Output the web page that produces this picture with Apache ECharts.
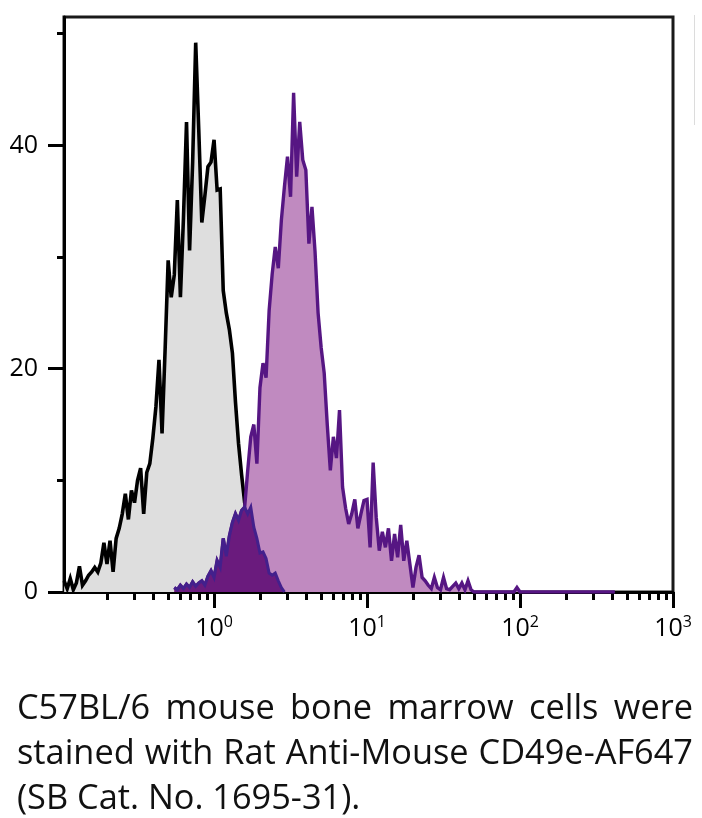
<!DOCTYPE html>
<html>
<head>
<meta charset="utf-8">
<script src="https://cdn.jsdelivr.net/npm/echarts@6/dist/echarts.min.js"></script>
<style>
  html, body { margin: 0; padding: 0; background: #fff; }
  #wrap { position: relative; width: 702px; height: 818px; }
  #chart { position: absolute; left: 0; top: 0; width: 702px; height: 818px; }
  #caption { position: absolute; left: 17px; top: 683px; width: 676px;
    font-family: "Open Sans", sans-serif; font-size: 33px; color: #111; }
  #caption div { height: 45px; line-height: 45px; white-space: nowrap; }
  #caption .j { text-align: justify; text-align-last: justify; }
  #measure { position: absolute; visibility: hidden; white-space: nowrap;
    font-family: "Open Sans", sans-serif; font-size: 100px; }
</style>
</head>
<body>
<div id="wrap">
  <div id="chart"></div>
  <div id="caption">
    <div class="j">C57BL/6 mouse bone marrow cells were</div>
    <div class="j" id="line2">stained with Rat Anti-Mouse CD49e-AF647</div>
    <div>(SB Cat. No. 1695-31).</div>
  </div>
  <span id="measure">stained with Rat Anti-Mouse CD49e-AF647</span>
</div>
<script>
// ---- data (histogram channels on a log10 fluorescence scale) ----
const binStart = -0.98;     // log10 of first channel
const binStep = 0.02;       // channel width in decades

// unstained / control (gray) histogram, channels 0..72
const grayCounts = [1.0,0.3,1.2,0.2,0.8,2.3,0.6,1.0,1.5,1.8,
  2.2,1.8,2.6,4.4,2.5,4.6,1.8,4.8,5.7,7.0,
  8.8,6.5,9.1,8.0,10.0,11.1,7.0,10.7,11.5,13.8,
  16.6,20.8,14.2,21.7,29.7,26.4,28.4,35.1,26.4,33.5,
  42.1,30.6,38.5,49.2,41.4,33.1,35.5,38.1,38.5,40.5,
  36.0,36.1,27.0,25.0,23.5,21.4,17.0,13.3,10.5,8.0,
  7.0,7.6,5.8,4.8,3.5,3.6,3.0,1.7,1.5,1.7,
  1.0,0.4,0];
const grayStart = 0;

// CD49e-AF647 stained (purple) histogram, channels 36..180
const purpleStart = 36;
const purpleCounts = [0.4,0.2,0.6,0.3,0.7,0.4,0.9,0.5,0.8,1.0,
  0.6,1.4,1.9,1.3,2.8,2.2,4.8,3.2,5.0,6.2,
  7.0,6.4,7.3,7.6,10.9,13.9,15.0,11.5,18.3,20.5,
  19.2,25.2,28.5,30.9,29.0,33.3,36.3,39.0,35.4,44.7,
  37.2,42.1,38.7,37.8,31.2,34.5,30.5,25.0,21.9,19.6,
  15.0,10.9,13.9,12.0,16.3,9.4,7.5,6.1,7.0,8.3,
  5.7,7.0,8.2,8.3,4.0,11.6,6.7,3.7,5.4,4.0,
  5.7,2.8,5.2,3.1,6.0,2.8,4.6,2.5,0.4,2.2,
  3.3,1.3,1.0,0.6,0.3,1.3,0.4,0.2,1.3,0.3,
  0.2,0.5,0.8,0.3,0.8,0.2,1.0,0.2,0,0,
  0,0,0,0,0,0,0,0,0,0,0,0,
  0.4,
  0,0,0,0,0,0,0,0,0,0,0,0,0,0,0,0,0,0,0,0,0,0,0,0,0,0,0,0,0,0,0,0];

// overlapping region of the two histograms (dark purple), channels 36..72
const overlapStart = 36;
const overlapCounts = [0.4,0.2,0.6,0.3,0.7,0.4,0.9,0.5,0.8,1.0,
  0.6,1.4,1.9,1.3,2.8,2.2,4.8,3.2,5.0,6.2,
  7.0,6.4,7.3,7.6,7.0,7.6,5.8,4.8,3.5,3.6,
  3.0,1.7,1.5,1.7,1.0,0.4,0];

// axes
const xMinValue = 0.1045, xMaxValue = 1000;
const xMajorTicks = [1, 10, 100, 1000];
const xMinorTicks = [0.2,0.3,0.4,0.5,0.6,0.7,0.8,0.9,
  2,3,4,5,6,7,8,9, 20,30,40,50,60,70,80,90, 200,300,400,500,600,700,800,900];
const yMax = 51.5;
const yLabelTicks = [0, 20, 40];
const yMinorTicks = [10, 30, 50];

// ---- caption sizing: second line fills the full width, as in the figure ----
(function fitCaption() {
  const w = document.getElementById('measure').getBoundingClientRect().width;
  if (w > 0) {
    const size = Math.min(36, 100 * 672 / w);
    document.getElementById('caption').style.fontSize = size.toFixed(2) + 'px';
  }
})();

// ---- build ----
function toSeries(start, counts) {
  return counts.map((c, i) => [binStart + (start + i) * binStep, c]);
}
const lg = v => Math.log10(v);
const FONT = '"Open Sans", sans-serif';

const chart = echarts.init(document.getElementById('chart'), null, { renderer: 'canvas' });
chart.setOption({
  animation: false,
  backgroundColor: '#fff',
  grid: { left: 64, right: 29, top: 17, bottom: 226, show: true,
    borderColor: '#1a1a1a', borderWidth: 3, backgroundColor: '#fff' },
  xAxis: [{
    type: 'value', position: 'bottom', min: lg(xMinValue), max: lg(xMaxValue),
    axisLine: { show: true, onZero: false, lineStyle: { color: '#000', width: 3 } },
    axisTick: { show: true, customValues: xMajorTicks.map(lg), length: 16,
      lineStyle: { color: '#000', width: 3 } },
    axisLabel: { customValues: xMajorTicks.map(lg), margin: 22,
      formatter: v => '{b|10}{s|' + Math.round(v) + '}',
      rich: {
        b: { fontSize: 25, fontFamily: FONT, color: '#000', lineHeight: 30 },
        s: { fontSize: 16, fontFamily: FONT, color: '#000', verticalAlign: 'top', lineHeight: 18 }
      } },
    splitLine: { show: false }
  }, {
    type: 'value', position: 'bottom', min: lg(xMinValue), max: lg(xMaxValue),
    axisLine: { show: false, onZero: false },
    axisTick: { show: true, customValues: xMinorTicks.map(lg), length: 8,
      lineStyle: { color: '#000', width: 3 } },
    axisLabel: { show: false },
    splitLine: { show: false }
  }],
  yAxis: [{
    type: 'value', position: 'left', min: 0, max: yMax,
    axisLine: { show: true, onZero: false, lineStyle: { color: '#000', width: 3 } },
    axisTick: { show: true, customValues: yLabelTicks, length: 16,
      lineStyle: { color: '#000', width: 3 } },
    axisLabel: { customValues: yLabelTicks, margin: 26, fontSize: 25,
      fontFamily: FONT, color: '#000' },
    splitLine: { show: false }
  }, {
    type: 'value', position: 'left', min: 0, max: yMax,
    axisLine: { show: false, onZero: false },
    axisTick: { show: true, customValues: yMinorTicks, length: 7,
      lineStyle: { color: '#000', width: 3 } },
    axisLabel: { show: false },
    splitLine: { show: false }
  }],
  series: [{
    name: 'Control', type: 'line', xAxisIndex: 0, yAxisIndex: 0,
    data: toSeries(grayStart, grayCounts), showSymbol: false, z: 2,
    lineStyle: { color: '#000', width: 3.6, join: 'miter', miterLimit: 4 },
    areaStyle: { color: '#dedede', opacity: 1 }
  }, {
    name: 'CD49e-AF647', type: 'line', xAxisIndex: 0, yAxisIndex: 0,
    data: toSeries(purpleStart, purpleCounts), showSymbol: false, z: 3,
    lineStyle: { color: '#561683', width: 3.4, join: 'miter', miterLimit: 4 },
    areaStyle: { color: '#c08ac0', opacity: 1 }
  }, {
    name: 'Overlap', type: 'line', xAxisIndex: 0, yAxisIndex: 0,
    data: toSeries(overlapStart, overlapCounts), showSymbol: false, z: 4,
    lineStyle: { color: '#43208c', width: 3.0, join: 'miter', miterLimit: 4 },
    areaStyle: { color: '#6a1b7d', opacity: 1 }
  }],
  graphic: [{
    type: 'line', silent: true,
    shape: { x1: 694.5, y1: 15, x2: 694.5, y2: 125 },
    style: { stroke: '#dcdcdc', lineWidth: 1 }
  }]
});
</script>
</body>
</html>
